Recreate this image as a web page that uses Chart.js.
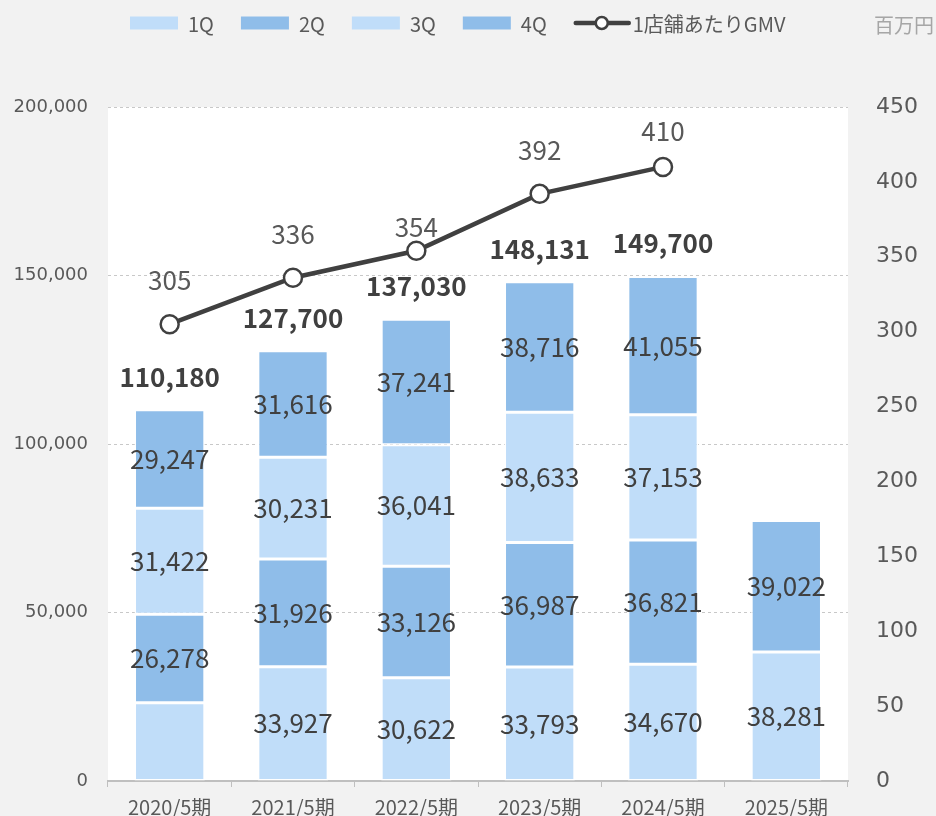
<!DOCTYPE html>
<html lang="ja">
<head>
<meta charset="utf-8">
<title>GMV</title>
<script src="https://cdn.jsdelivr.net/npm/chart.js@4.4.1/dist/chart.umd.min.js"></script>
<style>
    html, body { margin: 0; padding: 0; background: #f2f2f2; overflow: hidden; }
    canvas { display: block; }
</style>
</head>
<body>
<canvas id="gmvChart" width="936" height="816"></canvas>
<script>
// Data
const periods = ['2020/5期', '2021/5期', '2022/5期', '2023/5期', '2024/5期', '2025/5期'];
const q1 = [23233, 33927, 30622, 33793, 34670, 38281];
const q2 = [26278, 31926, 33126, 36987, 36821, 39022];
const q3 = [31422, 30231, 36041, 38633, 37153, null];
const q4 = [29247, 31616, 37241, 38716, 41055, null];
const totals = [110180, 127700, 137030, 148131, 149700, null];
const gmvPerStore = [305, 336, 354, 392, 410, null];
const leftTicks = [0, 50000, 100000, 150000, 200000];
const rightTicks = [0, 50, 100, 150, 200, 250, 300, 350, 400, 450];

// label tweaks (the 2020 1Q label is not shown in the reference)
const hiddenLabels = [[0, 0]];
const gmvLabelLift = [44, 44, 24, 44, 36, null];

const LIGHT = '#c0ddf9';
const MID = '#8fbde9';
const JP = "'Noto Sans CJK JP', 'Noto Sans', sans-serif";
const NUM = "'DejaVu Sans', sans-serif";

const fmt = v => v.toLocaleString('en-US');

// white plot area
const plotBg = {
    id: 'plotBg',
    beforeDraw(chart) {
        const { ctx, chartArea: a } = chart;
        ctx.save();
        ctx.fillStyle = '#ffffff';
        ctx.fillRect(a.left, a.top, a.right - a.left, a.bottom - a.top);
        ctx.restore();
    }
};

// data labels: segments, totals, line values
const valueLabels = {
    id: 'valueLabels',
    afterDatasetsDraw(chart) {
        const ctx = chart.ctx;
        ctx.save();
        ctx.textAlign = 'center';
        ctx.textBaseline = 'middle';

        // segment values
        ctx.font = '26px ' + JP;
        ctx.fillStyle = '#404040';
        for (let d = 0; d < 4; d++) {
            const meta = chart.getDatasetMeta(d);
            const values = chart.data.datasets[d].data;
            meta.data.forEach((el, i) => {
                if (values[i] == null) return;
                if (hiddenLabels.some(h => h[0] === d && h[1] === i)) return;
                ctx.fillText(fmt(values[i]), el.x, (el.y + el.base) / 2);
            });
        }

        // totals
        ctx.font = 'bold 26px ' + JP;
        const yScale = chart.scales.y;
        const base = chart.getDatasetMeta(0);
        totals.forEach((t, i) => {
            if (t == null) return;
            ctx.fillText(fmt(t), base.data[i].x, yScale.getPixelForValue(t) - 33);
        });

        // line values
        ctx.font = '26px ' + JP;
        ctx.fillStyle = '#595959';
        const lineMeta = chart.getDatasetMeta(4);
        lineMeta.data.forEach((el, i) => {
            if (gmvPerStore[i] == null) return;
            ctx.fillText(String(gmvPerStore[i]), el.x, el.y - gmvLabelLift[i]);
        });
        ctx.restore();
    }
};

// legend on top plus unit text
const topLegend = {
    id: 'topLegend',
    afterDraw(chart) {
        const ctx = chart.ctx;
        const cy = 23;
        ctx.save();
        ctx.font = '20px ' + JP;
        ctx.textBaseline = 'middle';
        ctx.textAlign = 'left';
        let x = 130;
        const items = [['1Q', LIGHT], ['2Q', MID], ['3Q', LIGHT], ['4Q', MID]];
        items.forEach(([name, color]) => {
            ctx.fillStyle = color;
            ctx.fillRect(x, cy - 6.5, 48, 13);
            ctx.fillStyle = '#595959';
            ctx.fillText(name, x + 58, cy + 1);
            x += 58 + ctx.measureText(name).width + 27;
        });
        // line item
        ctx.strokeStyle = '#404040';
        ctx.lineWidth = 4.5;
        ctx.lineCap = 'round';
        ctx.beginPath();
        ctx.moveTo(x + 2, cy);
        ctx.lineTo(x + 55, cy);
        ctx.stroke();
        ctx.beginPath();
        ctx.arc(x + 28, cy, 6, 0, Math.PI * 2);
        ctx.fillStyle = '#ffffff';
        ctx.fill();
        ctx.lineWidth = 2.5;
        ctx.stroke();
        ctx.fillStyle = '#595959';
        ctx.fillText('1店舗あたりGMV', x + 59, cy + 1);

        ctx.fillStyle = '#a6a6a6';
        ctx.textAlign = 'right';
        ctx.fillText('百万円', 934, cy + 2);
        ctx.restore();
    }
};

const barSet = (label, data, color) => ({
    label,
    data,
    backgroundColor: color,
    borderColor: '#ffffff',
    borderWidth: 1.5,
    borderSkipped: false,
    barPercentage: 0.57,
    categoryPercentage: 1,
    stack: 'gmv',
    yAxisID: 'y',
    order: 1
});

// fixed axis sizes so the plot area matches the reference
const fixVertical = w => s => {
    s.width = w;
    s.paddingTop = 12;
    s.paddingBottom = 12;
};

new Chart(document.getElementById('gmvChart'), {
    type: 'bar',
    data: {
        labels: periods,
        datasets: [
            barSet('1Q', q1, LIGHT),
            barSet('2Q', q2, MID),
            barSet('3Q', q3, LIGHT),
            barSet('4Q', q4, MID),
            {
                type: 'line',
                label: '1店舗あたりGMV',
                data: gmvPerStore,
                yAxisID: 'y1',
                borderColor: '#404040',
                borderWidth: 4.5,
                pointRadius: 9,
                pointBorderWidth: 2.5,
                pointBackgroundColor: '#ffffff',
                pointBorderColor: '#404040',
                tension: 0,
                order: 0
            }
        ]
    },
    options: {
        responsive: false,
        animation: false,
        layout: { padding: { top: 107, left: 0, right: 0, bottom: 0 } },
        plugins: {
            legend: { display: false },
            tooltip: { enabled: false }
        },
        scales: {
            x: {
                stacked: true,
                offset: true,
                grid: { display: true, drawOnChartArea: false, drawTicks: true, tickLength: 6, color: '#bfbfbf', offset: true },
                border: { display: true, color: '#bfbfbf', width: 2 },
                ticks: { color: '#595959', font: { family: JP, size: 20 }, padding: 8, maxRotation: 0 },
                afterFit: s => { s.height = 35; }
            },
            y: {
                stacked: true,
                position: 'left',
                min: 0,
                max: 200000,
                afterBuildTicks: s => { s.ticks = leftTicks.map(v => ({ value: v })); },
                ticks: { color: '#595959', font: { family: NUM, size: 18 }, padding: 20, callback: v => fmt(v) },
                grid: { color: '#c8c8c8', lineWidth: 1, drawTicks: false },
                border: { display: false, dash: [3, 3] },
                afterFit: fixVertical(108)
            },
            y1: {
                position: 'right',
                min: 0,
                max: 450,
                afterBuildTicks: s => { s.ticks = rightTicks.map(v => ({ value: v })); },
                ticks: { color: '#595959', font: { family: NUM, size: 22 }, padding: 28 },
                grid: { display: false, drawTicks: false },
                border: { display: false },
                afterFit: fixVertical(88)
            }
        }
    },
    plugins: [plotBg, valueLabels, topLegend]
});
</script>
</body>
</html>
